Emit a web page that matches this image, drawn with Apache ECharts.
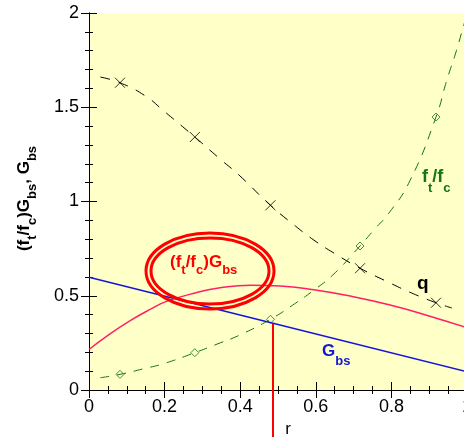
<!DOCTYPE html>
<html>
<head>
<meta charset="utf-8">
<script src="https://cdn.jsdelivr.net/npm/echarts@6/dist/echarts.min.js"></script>
<style>
  html, body { margin: 0; padding: 0; background: #fff; }
  #main { width: 464px; height: 437px; }
</style>
</head>
<body>
<div id="main"></div>
<script>
// r positions where the markers sit (same for q and ft/fc)
var markR = [0.082, 0.28, 0.48, 0.717, 0.918];

// q (black dashed, x markers)
var qR = [0.03, 0.082, 0.149, 0.198, 0.28, 0.347, 0.397, 0.48, 0.546, 0.595, 0.645, 0.717, 0.794, 0.853, 0.918, 0.96];
var qV = [1.66, 1.63, 1.56, 1.48, 1.342, 1.225, 1.14, 0.98, 0.87, 0.795, 0.73, 0.646, 0.57, 0.515, 0.463, 0.435];
var qMark = [1.63, 1.342, 0.98, 0.646, 0.463];

// ft/fc (green dashed, diamond markers)
var ftR = [0.03, 0.082, 0.149, 0.198, 0.28, 0.347, 0.397, 0.48, 0.546, 0.595, 0.645, 0.717, 0.754, 0.794, 0.849, 0.918, 0.946, 0.972, 0.992, 1.0];
var ftV = [0.065, 0.083, 0.115, 0.14, 0.198, 0.25, 0.29, 0.375, 0.46, 0.53, 0.61, 0.764, 0.85, 0.94, 1.11, 1.448, 1.64, 1.8, 1.94, 1.99];
var ftMark = [0.083, 0.198, 0.375, 0.764, 1.448];

// G_bs (blue)
var gR = [0, 0.5, 1];
var gV = [0.598, 0.348, 0.097];

// (ft/fc) G_bs (pink)
var pR = [0, 0.05, 0.109, 0.164, 0.205, 0.283, 0.347, 0.427, 0.506, 0.595, 0.694, 0.794, 0.893, 1.0];
var pV = [0.215, 0.29, 0.368, 0.43, 0.47, 0.516, 0.542, 0.556, 0.552, 0.532, 0.497, 0.452, 0.397, 0.33];

function pairs(xs, ys) {
  return xs.map(function (x, i) { return [x, ys[i]]; });
}

var FONT = 'Liberation Sans, Arial, sans-serif';

// rich styles for axis names (ECharts text style uses "color")
function richAxis(color, fs, ss, drop) {
  return {
    m: { fontSize: fs, fontWeight: 'bold', color: color, fontFamily: FONT, verticalAlign: 'top' },
    s: { fontSize: ss, fontWeight: 'bold', color: color, fontFamily: FONT, verticalAlign: 'bottom', padding: [drop, 0, 0, 0] }
  };
}
// rich styles for graphic text (zrender uses "fill")
function richG(color, fs, ss, drop) {
  return {
    m: { fontSize: fs, fontWeight: 'bold', fill: color, fontFamily: FONT, verticalAlign: 'top' },
    s: { fontSize: ss, fontWeight: 'bold', fill: color, fontFamily: FONT, verticalAlign: 'bottom', padding: [drop, 0, 0, 0] }
  };
}

var tickCommon = {
  axisLine: { show: true, lineStyle: { color: '#000', width: 1 } },
  axisTick: { show: true, inside: true, length: 8, lineStyle: { color: '#000' } },
  splitLine: { show: false },
  minorSplitLine: { show: false }
};
var xMinor = { minorTick: { show: true, splitNumber: 4, length: 4, lineStyle: { color: '#000' } } };
var yMinor = { minorTick: { show: true, splitNumber: 5, length: 4, lineStyle: { color: '#000' } } };

var chart = echarts.init(document.getElementById('main'));

var option = {
  animation: false,
  grid: {
    left: 89, right: -3, top: 13, bottom: 47,
    containLabel: false, outerBoundsMode: 'none',
    show: true, backgroundColor: '#FFFFC8', borderWidth: 0
  },
  xAxis: [
    Object.assign({
      type: 'value', min: 0, max: 1, interval: 0.2, position: 'bottom',
      axisLabel: { fontSize: 18, color: '#000', fontFamily: FONT, margin: 8 },
      name: 'r', nameLocation: 'middle', nameGap: 30,
      nameTextStyle: { fontSize: 17, color: '#000', fontFamily: FONT, padding: [0, 0, 0, 20] }
    }, tickCommon, xMinor),
    Object.assign({
      type: 'value', min: 0, max: 1, interval: 0.2, position: 'top',
      axisLabel: { show: false }
    }, tickCommon, xMinor)
  ],
  yAxis: [
    Object.assign({
      type: 'value', min: 0, max: 2, interval: 0.5, position: 'left',
      axisLabel: { fontSize: 18, color: '#000', fontFamily: FONT, margin: 10 },
      name: '{m|(f}{s|t}{m|/f}{s|c}{m|)G}{s|bs}{m|, G}{s|bs}',
      nameLocation: 'middle', nameGap: 50,
      nameTextStyle: { padding: [0, 0, 0, 6], rich: richAxis('#000', 17, 13, 10) }
    }, tickCommon, yMinor),
    Object.assign({
      type: 'value', min: 0, max: 2, interval: 0.5, position: 'right',
      axisLabel: { show: false }
    }, tickCommon, yMinor)
  ],
  series: [
    {
      name: 'q', type: 'line', smooth: true, symbol: 'none',
      data: pairs(qR, qV),
      lineStyle: { color: '#000', width: 1, type: [10, 9] }
    },
    {
      name: 'q marks', type: 'scatter',
      symbol: 'path://M0,0L10,10M10,0L0,10', symbolSize: 10,
      data: pairs(markR, qMark),
      itemStyle: { color: 'none', borderColor: '#000', borderWidth: 1 }
    },
    {
      name: 'ft/fc', type: 'line', smooth: true, symbol: 'none',
      data: pairs(ftR, ftV),
      lineStyle: { color: '#137513', width: 1, type: [9, 8] }
    },
    {
      name: 'ft/fc marks', type: 'scatter',
      symbol: 'diamond', symbolSize: 8,
      data: pairs(markR, ftMark),
      itemStyle: { color: 'none', borderColor: '#137513', borderWidth: 1 }
    },
    {
      name: 'Gbs', type: 'line', symbol: 'none',
      data: pairs(gR, gV),
      lineStyle: { color: '#1515D8', width: 1.5 }
    },
    {
      name: '(ft/fc)Gbs', type: 'line', smooth: true, symbol: 'none',
      data: pairs(pR, pV),
      lineStyle: { color: '#FF2068', width: 1.5 }
    }
  ],
  graphic: [
    { type: 'ellipse', z: 100, shape: { cx: 210, cy: 271, rx: 64, ry: 38 },
      style: { fill: 'none', stroke: '#FF0000', lineWidth: 3 } },
    { type: 'ellipse', z: 100, shape: { cx: 210, cy: 271, rx: 59, ry: 33 },
      style: { fill: 'none', stroke: '#FF0000', lineWidth: 3 } },
    { type: 'line', z: 100, shape: { x1: 273, y1: 324, x2: 273, y2: 437 },
      style: { stroke: '#FF0000', lineWidth: 2 } },
    { type: 'text', z: 100, x: 170, y: 254,
      style: { text: '{m|(f}{s|t}{m|/f}{s|c}{m|)G}{s|bs}', rich: richG('#FF0000', 17, 13, 10) } },
    { type: 'text', z: 100, x: 322, y: 343,
      style: { text: '{m|G}{s|bs}', rich: richG('#1515D8', 17, 13, 12) } },
    { type: 'text', z: 100, x: 422, y: 168,
      style: { text: '{m|f}{s|t}{m|/f}{s|c}', rich: richG('#137513', 18, 13, 14) } },
    { type: 'text', z: 100, x: 417, y: 274,
      style: { text: 'q', font: 'bold 19px ' + FONT, fill: '#000' } }
  ]
};

chart.setOption(option);
</script>
</body>
</html>
